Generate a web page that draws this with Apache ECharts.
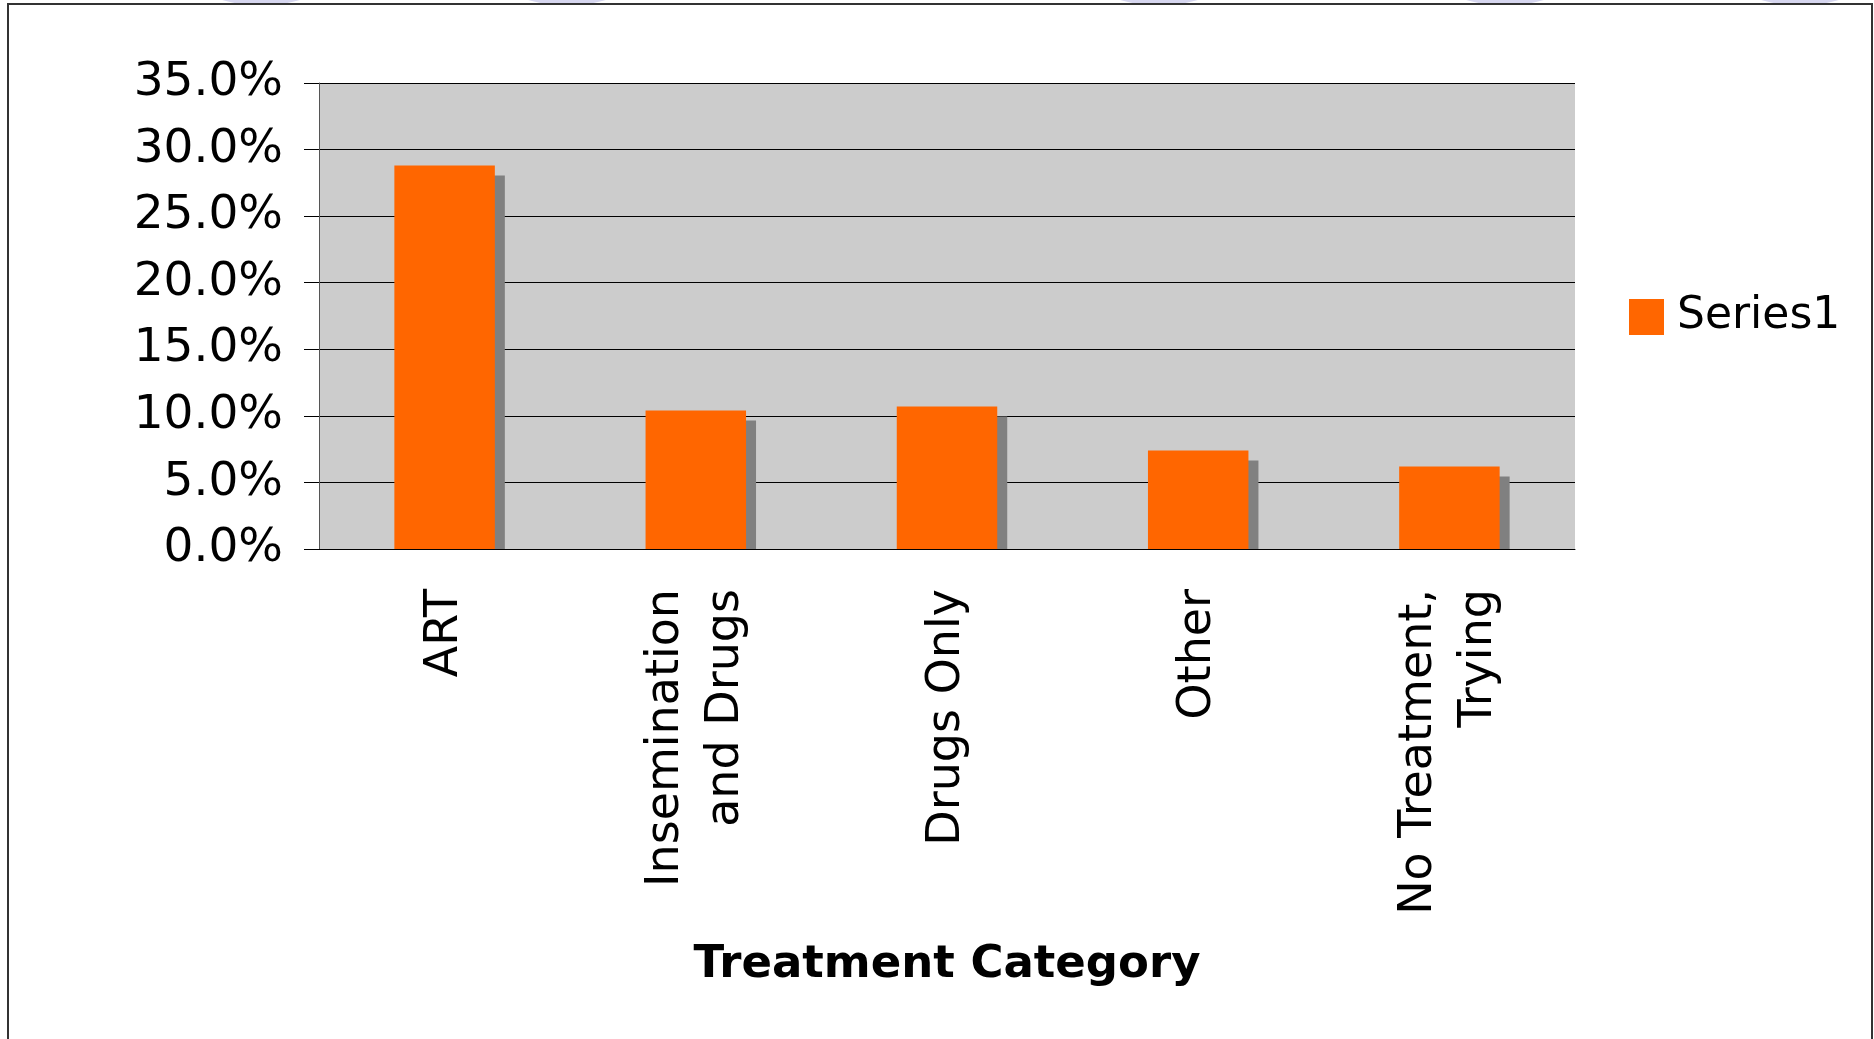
<!DOCTYPE html>
<html>
<head>
<meta charset="utf-8">
<title>Treatment Category</title>
<script src="https://cdn.jsdelivr.net/npm/echarts@6/dist/echarts.min.js"></script>
<style>
  html, body { margin: 0; padding: 0; background: #fff; }
  #chart { width: 1874px; height: 1039px; }
</style>
</head>
<body>
<div id="chart"></div>
<script>
// data
const categories = ["ART", "Insemination\nand Drugs", "Drugs Only", "Other", "No Treatment,\nTrying"];
const series1 = [28.8, 10.4, 10.7, 7.4, 6.2];
const yTicks = { min: 0, max: 35, interval: 5 };

const FONT = "DejaVu Sans";
const chart = echarts.init(document.getElementById("chart"));

// slide decoration peeking in along the top edge
const blobs = [261, 567, 1159, 1505, 1800].map((cx) => ({
  type: "ellipse",
  shape: { cx: cx, cy: -10, rx: 52, ry: 15 },
  style: { fill: "#d6d6ef" },
  z: 1,
}));

const option = {
  backgroundColor: "#fff",
  animation: false,
  textStyle: { fontFamily: FONT },
  grid: { left: 319, right: 299, top: 83, bottom: 490, show: true, backgroundColor: "#cccccc", borderWidth: 0 },
  legend: {
    left: 1629,
    top: 295,
    padding: 0,
    orient: "vertical",
    icon: "rect",
    itemWidth: 35,
    itemHeight: 36,
    textStyle: { fontFamily: FONT, fontSize: 44, color: "#000", padding: [0, 0, 0, 8] },
    data: ["Series1"],
  },
  xAxis: {
    type: "category",
    data: categories,
    name: "Treatment Category",
    nameLocation: "middle",
    nameGap: 416,
    nameTextStyle: { fontFamily: FONT, fontSize: 45, fontWeight: "bold", color: "#000", verticalAlign: "middle" },
    axisLine: { lineStyle: { color: "#000", width: 1 } },
    axisTick: { length: 15, lineStyle: { color: "#333" } },
    axisLabel: { rotate: 90, margin: 40, fontSize: 46, lineHeight: 60, color: "#000", interval: 0 },
    splitLine: { show: false },
  },
  yAxis: {
    type: "value",
    min: yTicks.min,
    max: yTicks.max,
    interval: yTicks.interval,
    axisLine: { show: true, lineStyle: { color: "#555" } },
    axisTick: { show: true, length: 15, lineStyle: { color: "#000" } },
    axisLabel: { fontSize: 47, margin: 36, color: "#000", padding: [12, 0, 0, 0], formatter: (v) => v.toFixed(1) + "%" },
    splitLine: { lineStyle: { color: "#000", width: 1 } },
  },
  series: [
    {
      name: "Series1",
      type: "custom",
      itemStyle: { color: "#ff6600" },
      data: series1.map((v, i) => [i, v]),
      renderItem(params, api) {
        const top = api.coord([api.value(0), api.value(1)]);
        const base = api.coord([api.value(0), 0]);
        const bw = api.size([1, 0])[0] * 0.4;
        const x0 = top[0] - bw / 2;
        return {
          type: "group",
          children: [
            {
              type: "rect",
              shape: { x: x0 + 10, y: top[1] + 10, width: bw, height: base[1] - top[1] - 10 },
              style: { fill: "#808080" },
            },
            {
              type: "rect",
              shape: { x: x0, y: top[1], width: bw, height: base[1] - top[1] },
              style: { fill: "#ff6600" },
            },
          ],
        };
      },
    },
  ],
  graphic: blobs.concat([
    {
      type: "rect",
      shape: { x: 8, y: 4, width: 1864, height: 1100 },
      style: { fill: null, stroke: "#333", lineWidth: 2 },
      silent: true,
      z: 2,
    },
  ]),
};

chart.setOption(option);
window.addEventListener("resize", () => chart.resize());
</script>
</body>
</html>
